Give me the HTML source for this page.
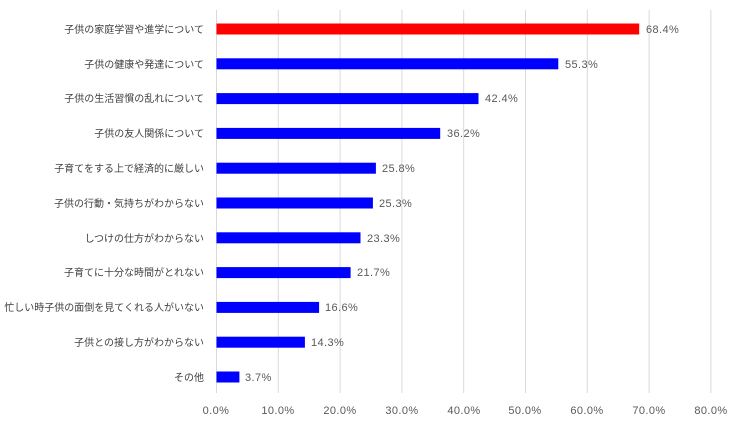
<!DOCTYPE html>
<html><head><meta charset="utf-8"><style>body{margin:0;background:#fff}svg{display:block}</style></head><body>
<svg width="740" height="424" xmlns="http://www.w3.org/2000/svg" font-family="Liberation Sans, Noto Sans CJK JP, sans-serif" font-size="10">
<g stroke="#d9d9d9" stroke-width="1">
<line x1="216.5" y1="10" x2="216.5" y2="393"/><line x1="278.3" y1="10" x2="278.3" y2="393"/><line x1="340.1" y1="10" x2="340.1" y2="393"/><line x1="401.9" y1="10" x2="401.9" y2="393"/><line x1="463.7" y1="10" x2="463.7" y2="393"/><line x1="525.5" y1="10" x2="525.5" y2="393"/><line x1="587.3" y1="10" x2="587.3" y2="393"/><line x1="649.1" y1="10" x2="649.1" y2="393"/><line x1="710.9" y1="10" x2="710.9" y2="393"/>
</g>
<g fill="#595959" text-anchor="middle" font-size="11" letter-spacing="0.4">
<text x="216" y="414">0.0%</text><text x="278" y="414">10.0%</text><text x="340" y="414">20.0%</text><text x="402" y="414">30.0%</text><text x="464" y="414">40.0%</text><text x="525" y="414">50.0%</text><text x="587" y="414">60.0%</text><text x="649" y="414">70.0%</text><text x="711" y="414">80.0%</text>
</g>
<g>
<rect x="216.5" y="23.5" width="422.7" height="11" fill="#ff0000"/>
<rect x="216.5" y="58.3" width="341.8" height="11" fill="#0000ff"/>
<rect x="216.5" y="93.1" width="262" height="11" fill="#0000ff"/>
<rect x="216.5" y="127.9" width="223.7" height="11" fill="#0000ff"/>
<rect x="216.5" y="162.7" width="159.4" height="11" fill="#0000ff"/>
<rect x="216.5" y="197.5" width="156.4" height="11" fill="#0000ff"/>
<rect x="216.5" y="232.3" width="144" height="11" fill="#0000ff"/>
<rect x="216.5" y="267.1" width="134.1" height="11" fill="#0000ff"/>
<rect x="216.5" y="301.9" width="102.6" height="11" fill="#0000ff"/>
<rect x="216.5" y="336.7" width="88.4" height="11" fill="#0000ff"/>
<rect x="216.5" y="371.5" width="22.9" height="11" fill="#0000ff"/>
</g>
<g fill="#595959" font-size="11" letter-spacing="0.4">
<text x="646" y="33">68.4%</text><text x="565" y="68">55.3%</text><text x="485" y="102">42.4%</text><text x="447" y="137">36.2%</text><text x="382" y="172">25.8%</text><text x="379" y="207">25.3%</text><text x="367" y="242">23.3%</text><text x="357" y="276">21.7%</text><text x="325" y="311">16.6%</text><text x="311" y="346">14.3%</text><text x="245" y="381">3.7%</text>
</g>
<g fill="#404040" text-anchor="end">
<text x="204" y="33">子供の家庭学習や進学について</text>
<text x="204" y="68">子供の健康や発達について</text>
<text x="204" y="102">子供の生活習慣の乱れについて</text>
<text x="204" y="137">子供の友人関係について</text>
<text x="204" y="172">子育てをする上で経済的に厳しい</text>
<text x="204" y="207">子供の行動・気持ちがわからない</text>
<text x="204" y="242">しつけの仕方がわからない</text>
<text x="204" y="276">子育てに十分な時間がとれない</text>
<text x="204" y="311">忙しい時子供の面倒を見てくれる人がいない</text>
<text x="204" y="346">子供との接し方がわからない</text>
<text x="204" y="381">その他</text>
</g>
</svg>
</body></html>
